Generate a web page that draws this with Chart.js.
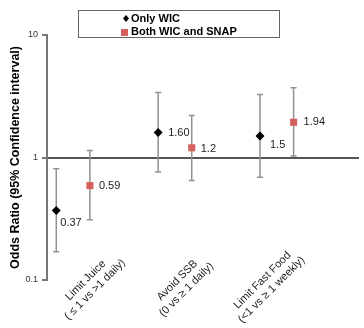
<!DOCTYPE html>
<html>
<head>
<meta charset="utf-8">
<script src="https://cdn.jsdelivr.net/npm/chart.js@4"></script>
<style>
    body { margin: 0; background: #fff; }
    #wrap { width: 364px; height: 328px; }
</style>
</head>
<body>
<div id="wrap"><canvas id="chart" width="364" height="328"></canvas></div>
<script>
const categories = [
    ["Limit Juice", "( \u2264 1 vs >1 daily)"],
    ["Avoid SSB", "(0 vs \u2265 1 daily)"],
    ["Limit Fast Food", "(<1 vs \u2265 1 weekly)"],
];
const seriesNames = ["Only WIC", "Both WIC and SNAP"];

const onlyWicOdds = [0.37, 1.6, 1.5];
const onlyWicLow = [0.17, 0.76, 0.69];
const onlyWicHigh = [0.81, 3.4, 3.27];
const onlyWicText = ["0.37", "1.60", "1.5"];

const bothOdds = [0.59, 1.2, 1.94];
const bothLow = [0.31, 0.65, 1.03];
const bothHigh = [1.14, 2.2, 3.71];
const bothText = ["0.59", "1.2", "1.94"];

const yTicks = [0.1, 1, 10];

const colors = {
    onlyWic: "#000000",
    both: "#d6605b",
    whisker: "#929292",
    axis: "#777777",
    refLine: "#555555",
    text: "#222222",
};
const font = "'Liberation Sans', Arial, sans-serif";

function points(values, shift) {
    return values.map((v, i) => ({ x: i + 1 + shift, y: v }));
}

const errorBars = {
    id: "errorBars",
    beforeDatasetsDraw(chart) {
        const { ctx } = chart;
        const y = chart.scales.y;
        const bounds = [[onlyWicLow, onlyWicHigh], [bothLow, bothHigh]];
        ctx.save();
        ctx.strokeStyle = colors.whisker;
        ctx.lineWidth = 1.5;
        chart.data.datasets.forEach((ds, d) => {
            chart.getDatasetMeta(d).data.forEach((pt, i) => {
                const top = y.getPixelForValue(bounds[d][1][i]);
                const bottom = y.getPixelForValue(bounds[d][0][i]);
                ctx.beginPath();
                ctx.moveTo(pt.x, top);
                ctx.lineTo(pt.x, bottom);
                ctx.moveTo(pt.x - 3, top);
                ctx.lineTo(pt.x + 3, top);
                ctx.moveTo(pt.x - 3, bottom);
                ctx.lineTo(pt.x + 3, bottom);
                ctx.stroke();
            });
        });
        ctx.restore();
    },
};

const valueLabels = {
    id: "valueLabels",
    afterDatasetsDraw(chart, args, opts) {
        const { ctx } = chart;
        const texts = [onlyWicText, bothText];
        ctx.save();
        ctx.font = `11px ${font}`;
        ctx.fillStyle = colors.text;
        ctx.textBaseline = "middle";
        chart.data.datasets.forEach((ds, d) => {
            chart.getDatasetMeta(d).data.forEach((pt, i) => {
                const shift = (opts.shifts[d] && opts.shifts[d][i]) || [9, 0];
                ctx.fillText(texts[d][i], pt.x + shift[0], pt.y + shift[1]);
            });
        });
        ctx.restore();
    },
};

const categoryLabels = {
    id: "categoryLabels",
    afterDraw(chart, args, opts) {
        const { ctx, chartArea } = chart;
        const x = chart.scales.x;
        ctx.save();
        ctx.font = `11px ${font}`;
        ctx.fillStyle = colors.text;
        ctx.textAlign = "center";
        ctx.textBaseline = "middle";
        categories.forEach((lines, i) => {
            ctx.save();
            ctx.translate(x.getPixelForValue(opts.anchors[i]), chartArea.bottom + 5);
            ctx.rotate(-Math.PI / 4);
            lines.forEach((line, k) => {
                ctx.fillText(line, 0, (k - (lines.length - 1) / 2) * 13);
            });
            ctx.restore();
        });
        ctx.restore();
    },
};

const boxLegend = {
    id: "boxLegend",
    afterDraw(chart) {
        const { ctx } = chart;
        ctx.save();
        ctx.strokeStyle = "#666";
        ctx.lineWidth = 1;
        ctx.strokeRect(78.5, 10.5, 201, 27);
        ctx.font = `bold 11px ${font}`;
        ctx.fillStyle = "#000";
        ctx.textBaseline = "middle";
        ctx.fillText(seriesNames[0], 131, 18.5);
        ctx.fillText(seriesNames[1], 131, 32);
        ctx.beginPath();
        ctx.moveTo(126, 15);
        ctx.lineTo(129, 18.5);
        ctx.lineTo(126, 22);
        ctx.lineTo(123, 18.5);
        ctx.closePath();
        ctx.fill();
        ctx.fillStyle = colors.both;
        ctx.fillRect(121, 29, 7, 7);
        ctx.restore();
    },
};

new Chart(document.getElementById("chart"), {
    type: "scatter",
    data: {
        datasets: [
            {
                label: seriesNames[0],
                data: points(onlyWicOdds, -0.165),
                pointStyle: "rectRot",
                radius: 4.5,
                backgroundColor: colors.onlyWic,
                borderColor: colors.onlyWic,
                borderWidth: 0,
            },
            {
                label: seriesNames[1],
                data: points(bothOdds, 0.165),
                pointStyle: "rect",
                radius: 5,
                backgroundColor: colors.both,
                borderColor: colors.both,
                borderWidth: 0,
            },
        ],
    },
    options: {
        responsive: false,
        animation: false,
        layout: { padding: { top: 35, right: 0, bottom: 48, left: 0 } },
        plugins: {
            legend: { display: false },
            tooltip: { enabled: false },
            valueLabels: {
                shifts: [[[4, 13], [10, 0], [10, 9]], [[9, 0], [9, 1], [10, 0]]],
            },
            categoryLabels: { anchors: [1.169, 2.068, 2.903] },
        },
        scales: {
            x: {
                type: "linear",
                display: false,
                min: 0.744,
                max: 3.807,
            },
            y: {
                type: "logarithmic",
                min: 0.1,
                max: 10,
                afterBuildTicks: (scale) => {
                    scale.ticks = yTicks.map((value) => ({ value }));
                },
                afterFit: (scale) => {
                    scale.width = 47;
                },
                ticks: {
                    color: "#333",
                    font: { family: font, size: 9 },
                    padding: 4,
                    callback: (value) => String(value),
                },
                grid: {
                    color: (c) => (c.tick && c.tick.value === 1 ? colors.refLine : "rgba(0,0,0,0)"),
                    tickColor: colors.axis,
                    lineWidth: 2,
                    tickLength: 5,
                },
                border: { color: colors.axis, width: 2 },
                title: {
                    display: true,
                    text: "Odds Ratio (95% Confidence interval)",
                    color: "#000",
                    font: { family: font, size: 12.5, weight: "bold" },
                    padding: { top: 8, bottom: 0 },
                },
            },
        },
    },
    plugins: [errorBars, valueLabels, categoryLabels, boxLegend],
});
</script>
</body>
</html>
